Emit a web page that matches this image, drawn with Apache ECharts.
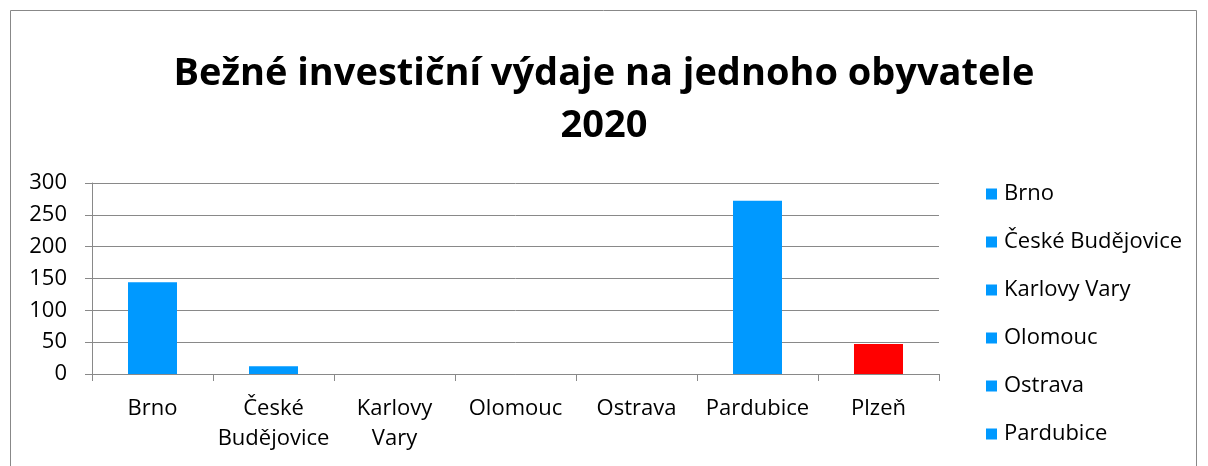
<!DOCTYPE html>
<html lang="cs">
<head>
    <meta charset="UTF-8">
    <title>Bežné investiční výdaje</title>
    <script src="https://cdn.jsdelivr.net/npm/echarts@6.0.0/dist/echarts.min.js"></script>
    <style>
        body { margin: 0; background: #fff; }
    </style>
</head>
<body>
    <div id="main" style="width: 1208px;height:466px;"></div>
    <script type="text/javascript">
        // data
        const cities = ['Brno', 'České Budějovice', 'Karlovy Vary', 'Olomouc', 'Ostrava', 'Pardubice', 'Plzeň'];
        const axisLabels = ['Brno', 'České\nBudějovice', 'Karlovy\nVary', 'Olomouc', 'Ostrava', 'Pardubice', 'Plzeň'];
        const values = [144, 12, 0, 0, 0, 272, 47];
        const barColors = ['#0099FF', '#0099FF', '#0099FF', '#0099FF', '#0099FF', '#0099FF', '#FF0000'];
        const legendColor = '#0099FF';

        const font = '"Open Sans", sans-serif';
        let myChart = echarts.init(document.getElementById('main'));

        // one stacked series per city, so the legend lists the cities
        const series = cities.map((name, i) => ({
            name: name,
            type: 'bar',
            stack: 'all',
            barWidth: 49,
            color: legendColor,
            itemStyle: { color: barColors[i] },
            data: cities.map((c, j) => (j === i ? values[i] : null))
        }));

        let options = {
            animation: false,
            textStyle: { fontFamily: font },
            title: {
                text: 'Bežné investiční výdaje na jednoho obyvatele\n2020',
                left: 'center',
                top: 43,
                textStyle: { fontSize: 38, fontWeight: 'bold', color: '#000', lineHeight: 52, fontFamily: font }
            },
            legend: {
                orient: 'vertical',
                left: 981,
                top: 178,
                height: 400,
                itemGap: 26,
                itemWidth: 11,
                itemHeight: 11,
                icon: 'rect',
                selectedMode: false,
                textStyle: { fontSize: 22, color: '#000', fontFamily: font, padding: [0, 0, 0, 2] },
                data: cities.map(c => ({ name: c, itemStyle: { color: legendColor } }))
            },
            grid: { left: 92, right: 269, top: 183, bottom: 92 },
            xAxis: {
                type: 'category',
                data: axisLabels,
                axisLine: { lineStyle: { color: '#898989', width: 1 } },
                axisTick: { show: true, length: 7, lineStyle: { color: '#898989' } },
                axisLabel: { color: '#000', fontSize: 22, margin: 20, lineHeight: 30, interval: 0, fontFamily: font }
            },
            yAxis: {
                type: 'value',
                min: 0,
                max: 300,
                interval: 50,
                axisLine: { show: true, lineStyle: { color: '#898989' } },
                axisTick: { show: true, length: 7, lineStyle: { color: '#898989' } },
                splitLine: { lineStyle: { color: '#898989', width: 1 } },
                axisLabel: { color: '#000', fontSize: 22, margin: 25, fontFamily: font }
            },
            graphic: [{
                type: 'rect',
                shape: { x: 10.5, y: 10.5, width: 1186, height: 470 },
                style: { fill: null, stroke: '#888', lineWidth: 1 },
                silent: true
            }],
            series: series
        };

        myChart.setOption(options);
    </script>
</body>
</html>
